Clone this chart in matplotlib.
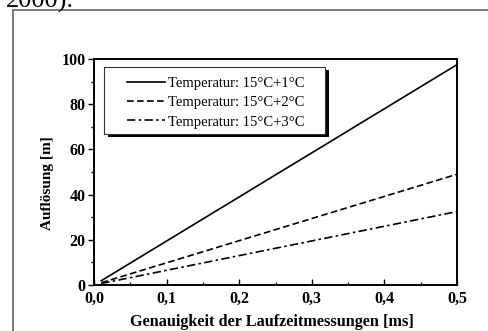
import matplotlib
matplotlib.use("Agg")
import matplotlib.pyplot as plt
from matplotlib.lines import Line2D
from matplotlib.patches import Rectangle
from matplotlib.ticker import MultipleLocator, FuncFormatter

# data
zeit = [0.01, 0.5]  # ms
aufl_1 = [1.9, 97.5]
aufl_2 = [1.0, 49.0]
aufl_3 = [0.65, 32.5]
labels = ["Temperatur: 15°C+1°C", "Temperatur: 15°C+2°C", "Temperatur: 15°C+3°C"]

plt.rcParams["font.family"] = ["Liberation Serif", "DejaVu Serif"]

fig = plt.figure(figsize=(4.88, 3.31), dpi=100)

# page remnants: caption text cut at the top and the frame around the figure
fig.text(0.012, 0.978, "2000).", fontsize=19, va="baseline", ha="left", color="black")
fig.add_artist(Line2D([13 / 488, 1.0], [1 - 10 / 331, 1 - 10 / 331], transform=fig.transFigure,
                      color="#6e6e6e", lw=1.3))
fig.add_artist(Line2D([13 / 488, 13 / 488], [1 - 10 / 331, 0.0], transform=fig.transFigure,
                      color="#6e6e6e", lw=1.3))

ax = fig.add_axes([94 / 488, 1 - 285 / 331, 363 / 488, 226 / 331])
ax.plot(zeit, aufl_1, color="black", lw=1.2, ls="-", label=labels[0])
ax.plot(zeit, aufl_2, color="black", lw=1.2, ls=(0, (4, 2)), label=labels[1])
ax.plot(zeit, aufl_3, color="black", lw=1.2, ls=(0, (5, 2, 1.5, 2)), label=labels[2])

ax.set_xlim(0, 0.5)
ax.set_ylim(0, 100)
ax.xaxis.set_major_locator(MultipleLocator(0.1))
ax.xaxis.set_minor_locator(MultipleLocator(0.05))
ax.yaxis.set_major_locator(MultipleLocator(20))
ax.yaxis.set_minor_locator(MultipleLocator(10))
ax.xaxis.set_major_formatter(FuncFormatter(lambda v, p: f"{v:.1f}".replace(".", ",")))

ax.tick_params(axis="x", which="both", direction="in", pad=4)
ax.tick_params(axis="y", which="both", direction="out", pad=2)
ax.tick_params(which="major", length=4, width=1.0)
ax.tick_params(which="minor", length=2.5, width=1.0)
for lab in ax.get_xticklabels() + ax.get_yticklabels():
    lab.set_fontweight("bold")
    lab.set_fontsize(11.5)
for s in ax.spines.values():
    s.set_linewidth(1.4)

ax.set_xlabel("Genauigkeit der Laufzeitmessungen [ms]", fontsize=11.7, fontweight="bold")
ax.set_ylabel("Auflösung [m]", fontsize=11, fontweight="bold")
ax.xaxis.set_label_coords(0.49, -0.13)
ax.yaxis.set_label_coords(-0.11, 0.45)

# legend box with solid black drop shadow, drawn by hand
bx, by, bw, bh = 0.0275, 0.668, 0.609, 0.297
ax.add_patch(Rectangle((bx + 0.011, by - 0.012), bw, bh, transform=ax.transAxes,
                       facecolor="black", edgecolor="black", lw=0, zorder=4))
ax.add_patch(Rectangle((bx, by), bw, bh, transform=ax.transAxes,
                       facecolor="white", edgecolor="#333333", lw=0.8, zorder=5))
leg = ax.legend(loc="upper left", bbox_to_anchor=(0.09, 0.922), fontsize=10.5, frameon=False,
                handlelength=2.6, handletextpad=0.2, borderpad=0, labelspacing=0.42, borderaxespad=0)
leg.set_zorder(6)

fig.savefig("out.png", dpi=100)
